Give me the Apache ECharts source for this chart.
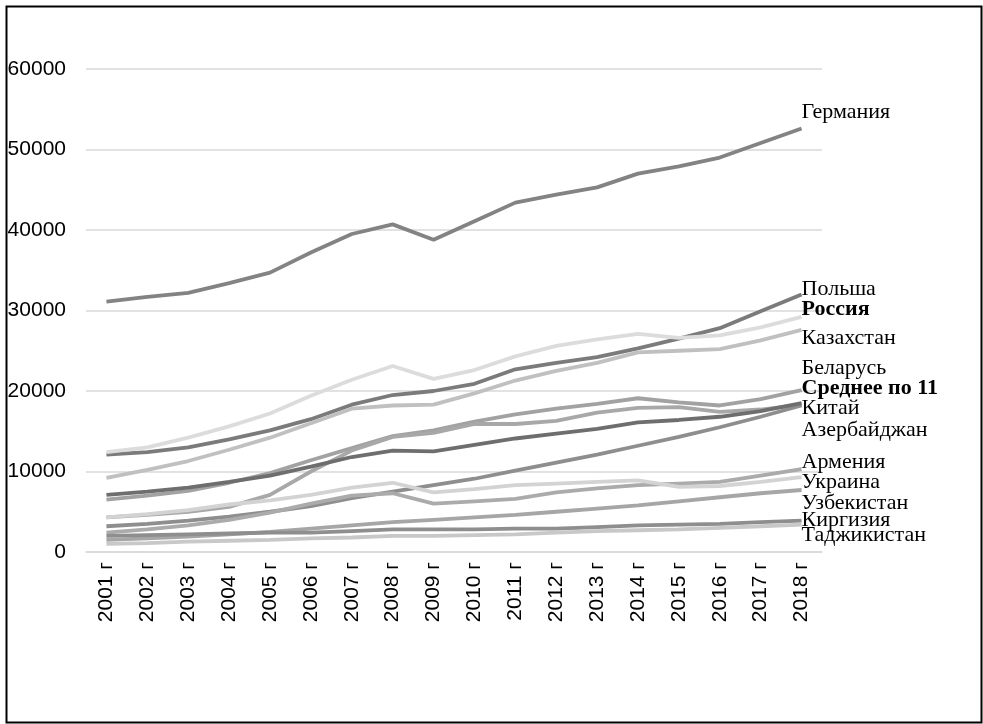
<!DOCTYPE html>
<html>
<head>
<meta charset="utf-8">
<script src="https://cdn.jsdelivr.net/npm/echarts@6/dist/echarts.min.js"></script>
<style>
html,body{margin:0;padding:0;background:#fff;}
#chart{width:983px;height:724px;}
</style>
</head>
<body>
<div id="chart"></div>
<script>
const years = ['2001 г','2002 г','2003 г','2004 г','2005 г','2006 г','2007 г','2008 г','2009 г','2010 г','2011 г','2012 г','2013 г','2014 г','2015 г','2016 г','2017 г','2018 г'];
const yTicks = [0, 10000, 20000, 30000, 40000, 50000, 60000];

const germany    = [31100, 31700, 32200, 33400, 34700, 37200, 39500, 40700, 38800, 41100, 43400, 44400, 45300, 47000, 47900, 49000, 50800, 52600];
const poland     = [12100, 12400, 13000, 14000, 15100, 16500, 18300, 19500, 20000, 20900, 22700, 23500, 24200, 25300, 26500, 27800, 29900, 32000];
const russia     = [12400, 13000, 14200, 15600, 17200, 19400, 21400, 23100, 21500, 22600, 24300, 25600, 26400, 27100, 26600, 26900, 27900, 29200];
const kazakhstan = [9200, 10200, 11300, 12700, 14200, 16000, 17800, 18200, 18300, 19700, 21300, 22500, 23500, 24800, 25000, 25200, 26300, 27600];
const belarus    = [6500, 7000, 7600, 8600, 9800, 11400, 12900, 14400, 15100, 16200, 17100, 17800, 18400, 19100, 18600, 18200, 19000, 20100];
const average11  = [7100, 7500, 8000, 8700, 9500, 10600, 11800, 12600, 12500, 13300, 14100, 14700, 15300, 16100, 16400, 16800, 17500, 18500];
const china      = [3200, 3500, 3900, 4400, 5000, 5700, 6700, 7500, 8300, 9100, 10100, 11100, 12100, 13200, 14300, 15500, 16800, 18200];
const azerbaijan = [4300, 4600, 5000, 5600, 7100, 10000, 12600, 14300, 14800, 15900, 15900, 16300, 17300, 17900, 18000, 17400, 17700, 18300];
const armenia    = [2400, 2800, 3300, 4000, 4900, 6000, 7000, 7300, 6000, 6300, 6600, 7400, 7900, 8300, 8500, 8700, 9500, 10300];
const ukraine    = [4300, 4700, 5200, 5900, 6400, 7100, 8000, 8600, 7400, 7800, 8300, 8500, 8700, 8900, 8100, 8200, 8700, 9300];
const uzbekistan = [1500, 1700, 1900, 2200, 2500, 2900, 3300, 3700, 4000, 4300, 4600, 5000, 5400, 5800, 6300, 6800, 7300, 7700];
const kyrgyzstan = [2000, 2100, 2200, 2300, 2400, 2400, 2600, 2800, 2800, 2800, 2900, 2900, 3100, 3300, 3400, 3500, 3700, 3900];
const tajikistan = [1000, 1100, 1300, 1400, 1500, 1700, 1800, 2000, 2000, 2100, 2200, 2400, 2600, 2700, 2800, 3000, 3200, 3400];

const seriesDefs = [
  {name:'Германия',      data:germany,    color:'#838383', dy:-16, bold:false},
  {name:'Польша',        data:poland,     color:'#7b7b7b', dy:-5,  bold:false},
  {name:'Россия',        data:russia,     color:'#dcdcdc', dy:-8,  bold:true},
  {name:'Казахстан',     data:kazakhstan, color:'#c0c0c0', dy:8,   bold:false},
  {name:'Беларусь',      data:belarus,    color:'#a2a2a2', dy:-22, bold:false},
  {name:'Азербайджан',   data:azerbaijan, color:'#a8a8a8', dy:26,  bold:false},
  {name:'Китай',         data:china,      color:'#8e8e8e', dy:3,   bold:false},
  {name:'Среднее по 11', data:average11,  color:'#6e6e6e', dy:-15, bold:true},
  {name:'Армения',       data:armenia,    color:'#ababab', dy:-7,  bold:false},
  {name:'Украина',       data:ukraine,    color:'#d3d3d3', dy:5,   bold:false},
  {name:'Узбекистан',    data:uzbekistan, color:'#a6a6a6', dy:13,  bold:false},
  {name:'Киргизия',      data:kyrgyzstan, color:'#8e8e8e', dy:0,   bold:false},
  {name:'Таджикистан',   data:tajikistan, color:'#c8c8c8', dy:11,  bold:false}
];

const chart = echarts.init(document.getElementById('chart'), null, {renderer:'canvas'});
chart.setOption({
  animation:false,
  graphic:[{type:'rect', left:4, top:4, shape:{width:975, height:716}, style:{fill:'none', stroke:'#000', lineWidth:2}, silent:true}],
  grid:{left:86, right:161, top:69, bottom:172, containLabel:false},
  xAxis:{
    type:'category', data:years, boundaryGap:true,
    axisTick:{show:false},
    axisLine:{lineStyle:{color:'#d9d9d9', width:1.5}},
    axisLabel:{rotate:90, fontFamily:'Liberation Sans', fontSize:21, color:'#000', margin:10}
  },
  yAxis:{
    type:'value', min:yTicks[0], max:yTicks[yTicks.length-1], interval:yTicks[1]-yTicks[0],
    axisLine:{show:false}, axisTick:{show:false},
    splitLine:{lineStyle:{color:'#d9d9d9', width:1.5}},
    axisLabel:{fontFamily:'Liberation Sans', fontSize:21, color:'#000', margin:20, formatter:v => String(v)}
  },
  series: seriesDefs.map(s => ({
    name:s.name, type:'line', data:s.data, showSymbol:false, symbol:'none',
    lineStyle:{color:s.color, width:3.8}, itemStyle:{color:s.color},
    endLabel:{show:true, formatter:'{a}', fontFamily:'Liberation Serif', fontSize:22,
      fontWeight:s.bold?'bold':'normal', color:'#000', distance:0, offset:[0, s.dy]}
  }))
});
</script>
</body>
</html>
